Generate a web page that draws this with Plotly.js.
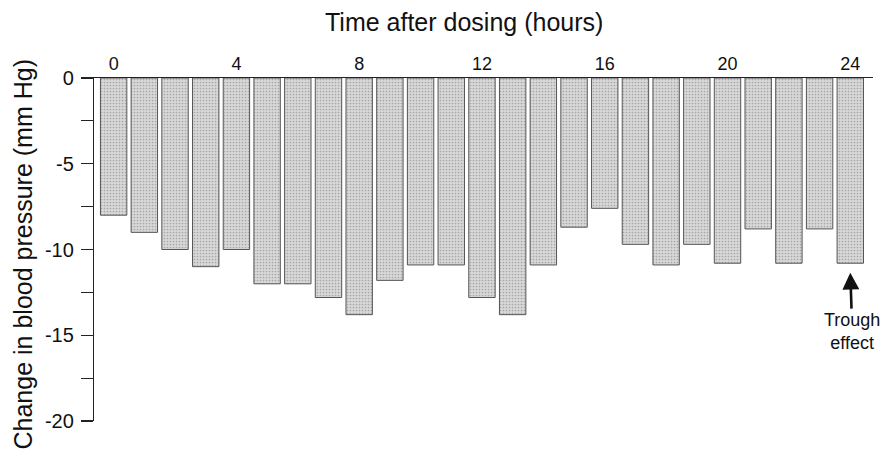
<!DOCTYPE html>
<html>
<head>
<meta charset="utf-8">
<script src="https://cdn.plot.ly/plotly-3.0.1.min.js"></script>
<style>html,body{margin:0;padding:0;background:#fff}#chart{width:882px;height:464px}</style>
</head>
<body>
<div id="chart"></div>
<script>
const hours = [0,1,2,3,4,5,6,7,8,9,10,11,12,13,14,15,16,17,18,19,20,21,22,23,24];
const bpChange = [-8,-9,-10,-11,-10,-12,-12,-12.8,-13.8,-11.8,-10.9,-10.9,-12.8,-13.8,-10.9,-8.7,-7.6,-9.7,-10.9,-9.7,-10.8,-8.8,-10.8,-8.8,-10.8];
const xTickVals = [0,4,8,12,16,20,24];
const xTickText = ['0','4','8','12','16','20','24'];
const yTickVals = [0,-2.5,-5,-7.5,-10,-12.5,-15,-17.5,-20];
const yTickText = ['0','','-5','','-10','','-15','','-20'];
const chartTitle = 'Time after dosing (hours)';
const yTitle = 'Change in blood pressure (mm Hg)';
const troughLabel = 'Trough<br>effect';
const troughHour = 24;
const troughTip = -11.35;

const FONT = 'Liberation Sans, Arial, Helvetica, sans-serif';

const trace = {
  type: 'bar',
  x: hours,
  y: bpChange,
  marker: {
    color: '#cfcfcf',
    line: {color: '#555', width: 1},
    pattern: {shape: '.', fgcolor: '#a6a6a6', bgcolor: '#d8d8d8', size: 3, solidity: 0.25}
  },
  hoverinfo: 'none'
};

const layout = {
  width: 882, height: 464,
  margin: {l: 94, r: 9, t: 78, b: 43},
  paper_bgcolor: '#fff', plot_bgcolor: '#fff',
  font: {family: FONT, color: '#111', size: 18},
  bargap: 0.14,
  showlegend: false,
  xaxis: {
    side: 'top',
    range: [-0.64, 24.74],
    tickvals: xTickVals, ticktext: xTickText,
    ticks: '', showline: true, linecolor: '#222', linewidth: 1.2,
    showgrid: false, zeroline: false,
    tickfont: {size: 18, family: FONT, color: '#111'}
  },
  yaxis: {
    range: [-20, 0],
    tickvals: yTickVals, ticktext: yTickText,
    ticks: 'outside', ticklen: 12, tickwidth: 1.2, tickcolor: '#222',
    ticklabelstandoff: 3,
    showline: true, linecolor: '#222', linewidth: 1.2,
    showgrid: false, zeroline: false,
    tickfont: {size: 20, family: FONT, color: '#111'}
  },
  annotations: [
    {text: chartTitle, xref: 'paper', yref: 'paper', x: 0.475, y: 1.163, xanchor: 'center', yanchor: 'middle',
     showarrow: false, font: {size: 25, family: FONT, color: '#111'}},
    {text: yTitle, xref: 'paper', yref: 'paper', x: (22 - 94) / 779, y: (421 - 254.5) / 343, xanchor: 'center', yanchor: 'middle',
     textangle: -90, showarrow: false, font: {size: 25, family: FONT, color: '#111'}},
    {text: troughLabel, x: troughHour, y: troughTip, xref: 'x', yref: 'y',
     showarrow: true, ax: 2, ay: 59, arrowhead: 2, arrowsize: 1.3, arrowwidth: 2.6, arrowcolor: '#111',
     font: {size: 18, family: FONT, color: '#111'}, align: 'center'}
  ]
};

Plotly.newPlot('chart', [trace], layout, {staticPlot: true, displayModeBar: false});
</script>
</body>
</html>
